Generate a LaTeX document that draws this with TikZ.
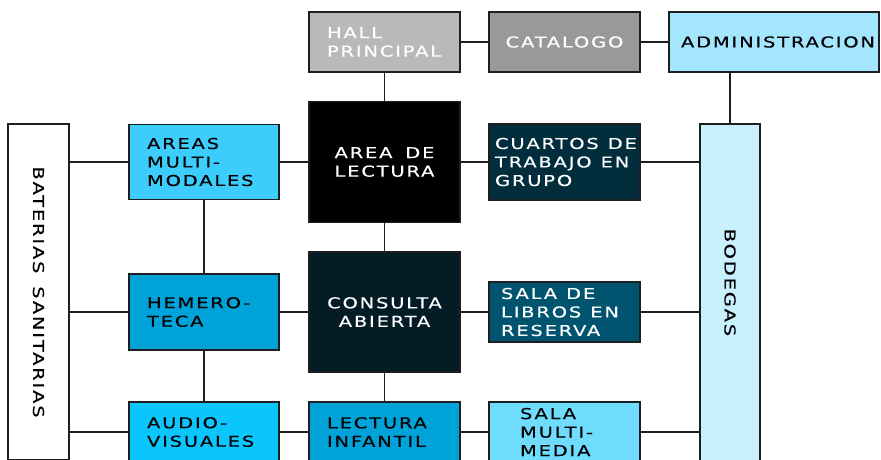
\documentclass[tikz,border=0pt]{standalone}
\usepackage{fontspec}
\newfontfamily\planofont{DejaVu Sans}[FakeStretch=1.3,LetterSpace=12,FakeBold=0.3,WordSpace=1.6]
\definecolor{hallgray}{HTML}{B9B9B9}
\definecolor{catgray}{HTML}{999999}
\definecolor{admblue}{HTML}{A3E6FD}
\definecolor{ambblue}{HTML}{3DCDFD}
\definecolor{cuadark}{HTML}{022D3C}
\definecolor{bodblue}{HTML}{C8F0FD}
\definecolor{hemblue}{HTML}{00A3D9}
\definecolor{consdark}{HTML}{041C25}
\definecolor{salblue}{HTML}{005470}
\definecolor{audblue}{HTML}{0AC6FC}
\definecolor{mmblue}{HTML}{70DCFD}
\definecolor{inkgray}{HTML}{1E1E1E}
\tikzstyle{room} = [rectangle, draw=inkgray, line width=1.6pt, inner sep=0pt, minimum width=151pt, align=left, font=\planofont\fontsize{15}{18.5}\selectfont]
\tikzstyle{link} = [line width=1.8pt, draw=inkgray]
\newcommand{\wgap}{\hspace{9pt}}

\begin{document}
\begin{tikzpicture}[x=1pt,y=-1pt]
        \path[use as bounding box, clip] (0,0) rectangle (881,459);
        \node[room, fill=hallgray, text=white, minimum height=60, text width=115] (hall) at (384.5,42) {HALL\\PRINCIPAL};
        \node[room, fill=catgray, text=white, minimum height=60, align=center] (cat) at (564.5,42) {CATALOGO};
        \node[room, fill=admblue, text=black, minimum width=210, minimum height=60, text width=186] (adm) at (774,42) {ADMINISTRACION};
        \node[room, fill=black, text=white, minimum height=121, align=center] (lect) at (384.5,162) {AREA DE\\LECTURA};
        \node[room, fill=ambblue, text=black, minimum width=150, minimum height=75, text width=114] (am) at (204,162) {AREAS\\MULTI-\\MODALES};
        \node[room, fill=cuadark, text=white, minimum height=76, text width=139] (cua) at (564.5,162) {\mbox{CUARTOS\wgap DE}\\\mbox{TRABAJO\wgap EN}\\GRUPO};
        \node[room, fill=white, minimum width=61, minimum height=336] (bat) at (38.5,292) {};
        \node[room, fill=bodblue, minimum width=60, minimum height=356] (bod) at (730,302) {};
        \node[room, fill=hemblue, text=black, minimum width=150, minimum height=76, text width=114] (hem) at (204,312) {HEMERO-\\TECA};
        \node[room, fill=consdark, text=white, minimum height=120, align=center] (cons) at (384.5,312) {CONSULTA\\ABIERTA};
        \node[room, fill=salblue, text=white, minimum height=60, text width=127] (sal) at (564.5,312) {\mbox{SALA\wgap DE}\\\mbox{LIBROS\wgap EN}\\RESERVA};
        \node[room, fill=audblue, text=black, minimum width=150, minimum height=60, text width=114] (aud) at (204,432) {AUDIO-\\VISUALES};
        \node[room, fill=hemblue, text=black, minimum height=60, text width=115] (inf) at (384.5,432) {LECTURA\\INFANTIL};
        \node[room, fill=mmblue, text=black, minimum height=60, text width=89] (mm) at (564.5,432) {SALA\\MULTI-\\MEDIA};
        \node[rotate=-90, inner sep=0pt, font=\planofont\fontsize{15}{18.5}\selectfont] (battxt) at (38.5,292) {BATERIAS SANITARIAS};
        \node[rotate=-90, inner sep=0pt, font=\planofont\fontsize{15}{18.5}\selectfont] (bodtxt) at (730,282.5) {BODEGAS};
    \begin{scope}[link]
        \draw (hall) -- (cat);
        \draw (cat) -- (adm);
        \draw (hall) -- (lect);
        \draw (adm.south -| bod.north) -- (bod.north);
        \draw (am.west -| bat.east) -- (am);
        \draw (am) -- (lect);
        \draw (lect) -- (cua);
        \draw (cua) -- (cua -| bod.west);
        \draw (am) -- (hem);
        \draw (lect) -- (cons);
        \draw (hem.west -| bat.east) -- (hem);
        \draw (hem) -- (cons);
        \draw (cons) -- (sal);
        \draw (sal) -- (sal -| bod.west);
        \draw (hem) -- (aud);
        \draw (cons) -- (inf);
        \draw (aud.west -| bat.east) -- (aud);
        \draw (aud) -- (inf);
        \draw (inf) -- (mm);
        \draw (mm) -- (mm -| bod.west);
    \end{scope}
\end{tikzpicture}
\end{document}
